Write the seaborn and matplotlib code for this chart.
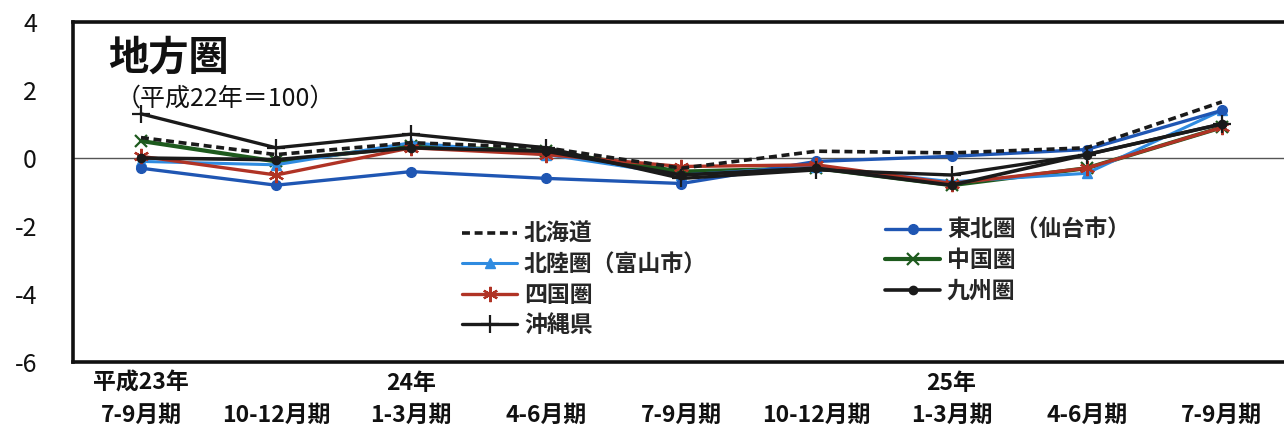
import numpy as np
import pandas as pd
import matplotlib
matplotlib.use("Agg")
import matplotlib.pyplot as plt
import seaborn as sns

sns.set_theme(style="white")
plt.rcParams["font.family"] = ["Noto Sans CJK JP", "DejaVu Sans"]
plt.rcParams["axes.unicode_minus"] = False

# Quarterly periods (平成23年7-9月期 – 平成25年7-9月期)
periods = ["7-9月期", "10-12月期", "1-3月期", "4-6月期", "7-9月期",
           "10-12月期", "1-3月期", "4-6月期", "7-9月期"]
years = ["平成23年", "", "24年", "", "", "", "25年", "", ""]

# Year-on-year change by region (平成22年＝100)
hokkaido = [0.6, 0.1, 0.45, 0.3, -0.3, 0.2, 0.15, 0.3, 1.65]
tohoku   = [-0.3, -0.8, -0.4, -0.6, -0.75, -0.1, 0.05, 0.25, 1.4]
hokuriku = [-0.1, -0.2, 0.45, 0.1, -0.5, -0.25, -0.7, -0.45, 1.4]
chugoku  = [0.5, -0.1, 0.35, 0.2, -0.4, -0.3, -0.8, -0.3, 0.9]
shikoku  = [0.05, -0.5, 0.3, 0.1, -0.25, -0.2, -0.75, -0.3, 0.9]
kyushu   = [0.0, -0.05, 0.3, 0.2, -0.5, -0.3, -0.8, 0.1, 1.0]
okinawa  = [1.3, 0.3, 0.7, 0.3, -0.6, -0.35, -0.5, 0.1, 1.0]

x = np.arange(len(periods))

fig = plt.figure(figsize=(12.84, 4.30), dpi=100)
W, H = 1284, 430
ax = fig.add_axes([73 / W, 1 - 362 / H, (1300 - 73) / W, 340 / H])

ax.axhline(0, color="#555555", lw=1.0, zorder=1)

asterisk = (6, 2, 0)
styles = [
    # label, values, color, marker, linestyle, lw, ms, mew
    ("中国圏", chugoku, "#1d5a1d", "x", "-", 3.0, 9, 1.6),
    ("北陸圏（富山市）", hokuriku, "#2f8be0", "^", "-", 2.2, 7, 1.0),
    ("東北圏（仙台市）", tohoku, "#1f56b3", "o", "-", 2.4, 7, 1.0),
    ("四国圏", shikoku, "#b03325", asterisk, "-", 2.4, 11, 1.6),
    ("九州圏", kyushu, "#1a1a1a", "o", "-", 2.6, 6, 1.0),
    ("沖縄県", okinawa, "#1a1a1a", "+", "-", 2.4, 13, 1.6),
    ("北海道", hokkaido, "#1a1a1a", None, (0, (2.2, 1.3)), 2.6, 0, 0),
]
lines = {}
for label, vals, color, marker, ls, lw, ms, mew in styles:
    sns.lineplot(x=x, y=vals, ax=ax, color=color, marker=marker,
                 linestyle=ls, lw=lw, markersize=ms, markeredgewidth=mew,
                 markeredgecolor=color, label=label, zorder=3)
    lines[label] = ax.get_lines()[-1]

ax.set_xlim(-0.503, (1300 - 141) / 135.1)
ax.set_ylim(-6, 4)
ax.set_yticks([-6, -4, -2, 0, 2, 4])
ax.set_yticklabels(["-6", "-4", "-2", "0", "2", "4"], fontsize=18)
ax.tick_params(axis="y", direction="in", length=6, width=1.2, pad=26,
               colors="#111111")
ax.set_xticks(x)
ax.set_xticklabels([f"{y}\n{p}" for y, p in zip(years, periods)],
                   fontsize=16.5, fontweight="bold", linespacing=1.5)
ax.tick_params(axis="x", length=0, pad=7, colors="#111111")
ax.set_xlabel("")
ax.set_ylabel("")

for side in ["left", "top", "bottom"]:
    ax.spines[side].set_visible(True)
    ax.spines[side].set_color("#111111")
    ax.spines[side].set_linewidth(2.6)
ax.spines["right"].set_visible(False)

fig.text(108 / W, 1 - 58 / H, "地方圏", fontsize=29, fontweight="bold",
         va="center", ha="left", color="#111111")
fig.text(116 / W, 1 - 99 / H, "（平成22年＝100）", fontsize=18,
         va="center", ha="left", color="#111111")

if ax.legend_:
    ax.legend_.remove()
left_labels = ["北海道", "北陸圏（富山市）", "四国圏", "沖縄県"]
right_labels = ["東北圏（仙台市）", "中国圏", "九州圏"]
leg_kw = dict(frameon=False, fontsize=16.5, handlelength=2.4, handletextpad=0.3,
              labelspacing=0.32, borderpad=0, borderaxespad=0,
              loc="upper left", bbox_transform=fig.transFigure)
leg1 = ax.legend([lines[l] for l in left_labels], left_labels,
                 bbox_to_anchor=(462 / W, 1 - 223 / H), **leg_kw)
for t in leg1.get_texts():
    t.set_fontweight("bold")
ax.add_artist(leg1)
leg2 = ax.legend([lines[l] for l in right_labels], right_labels,
                 bbox_to_anchor=(885 / W, 1 - 219 / H), **leg_kw)
for t in leg2.get_texts():
    t.set_fontweight("bold")

fig.savefig("out.png", dpi=100, facecolor="white")
